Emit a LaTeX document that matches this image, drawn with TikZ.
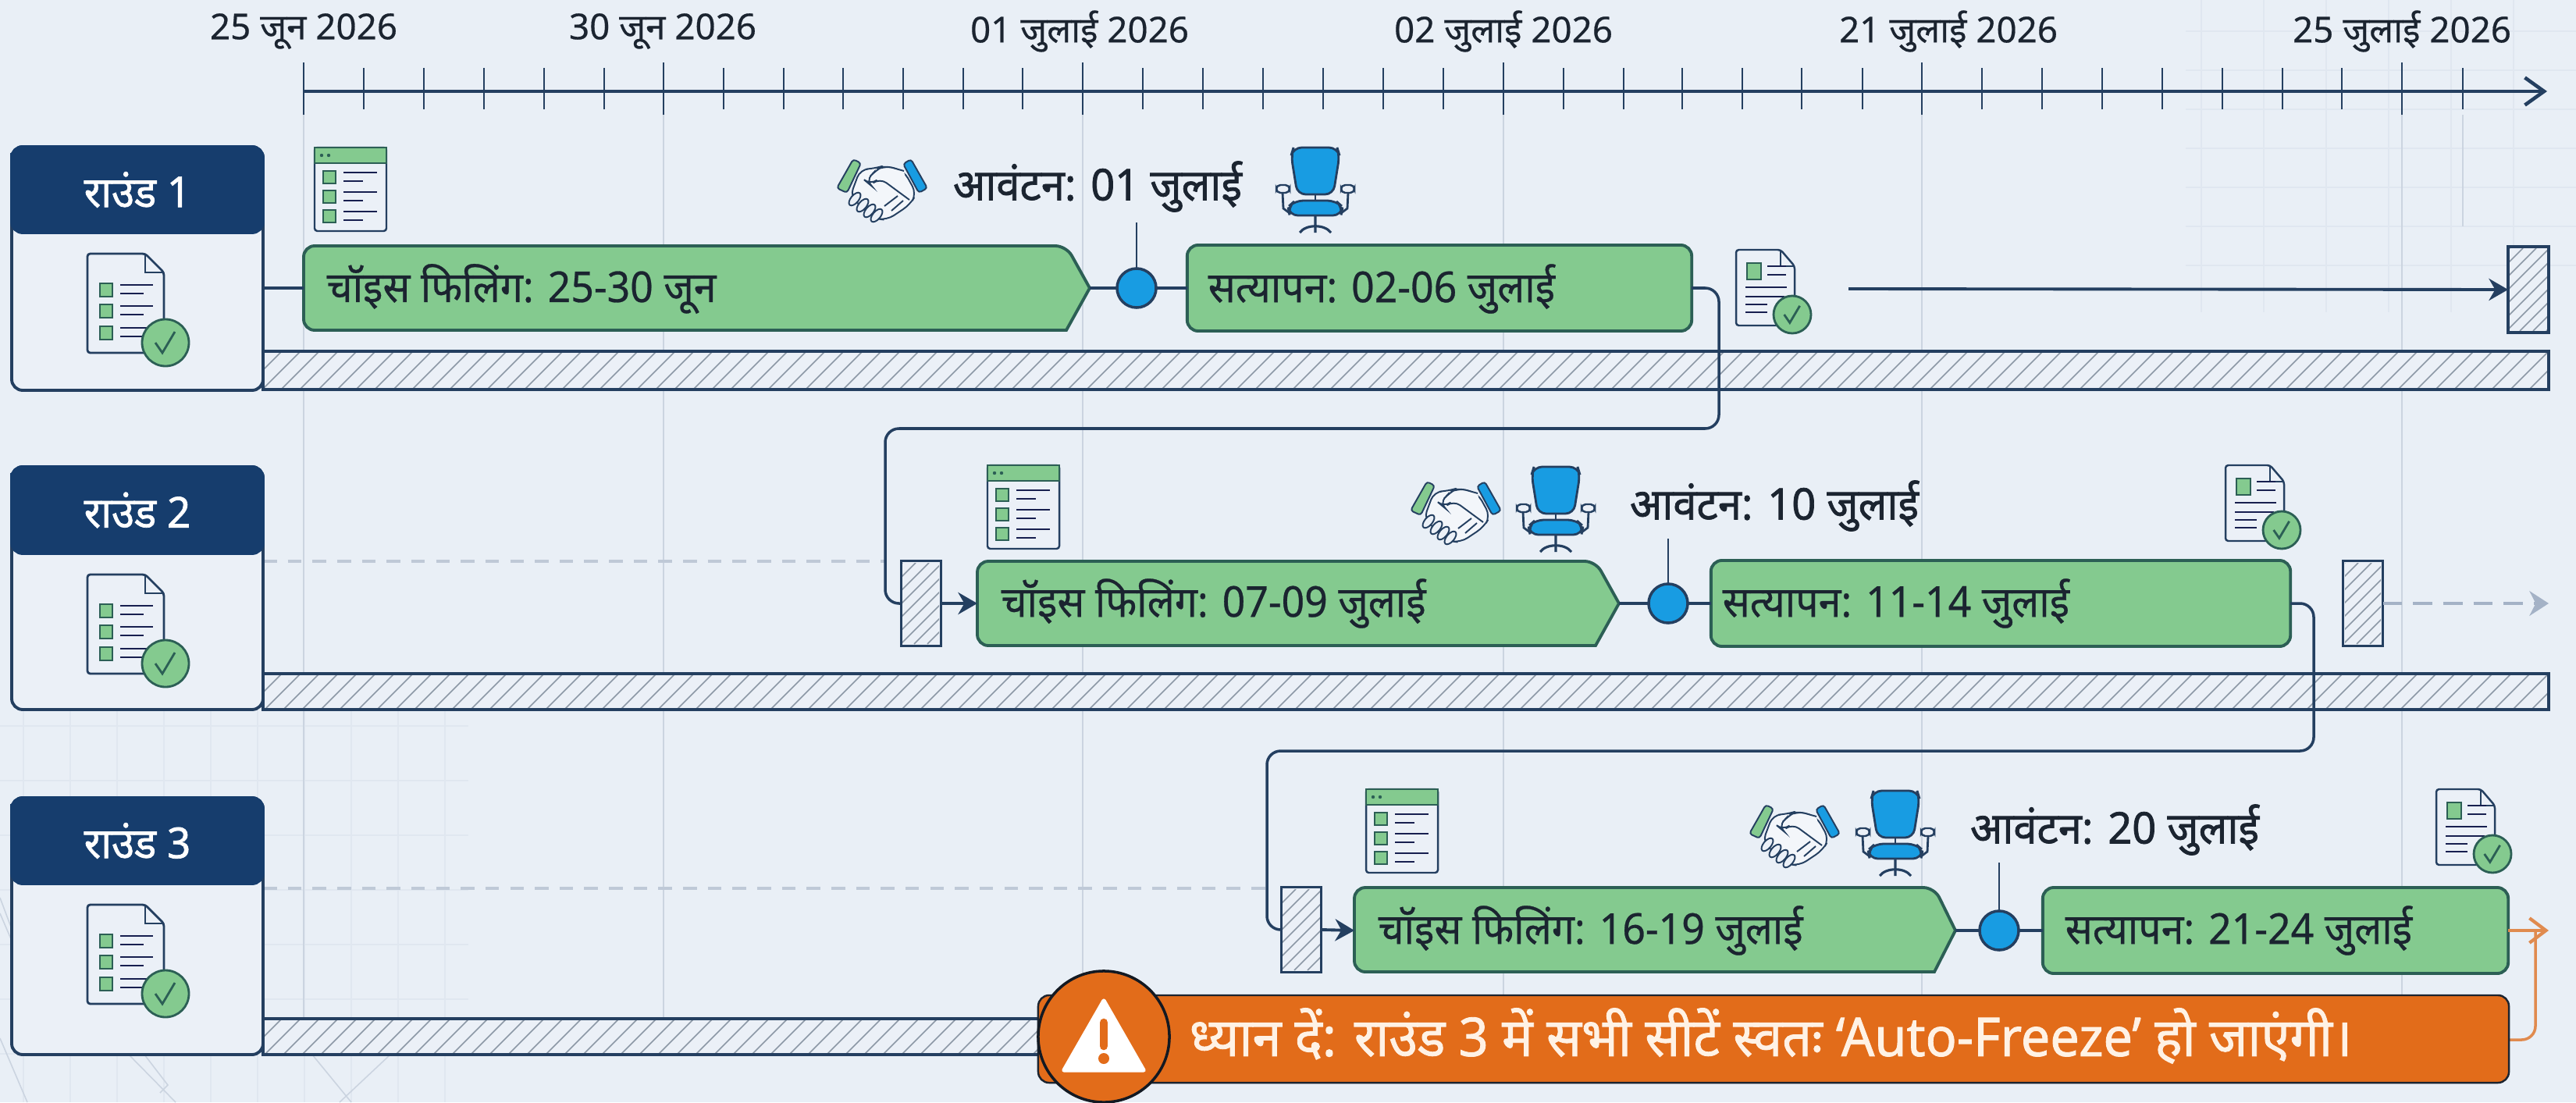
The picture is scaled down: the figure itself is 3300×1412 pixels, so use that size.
\documentclass[tikz,border=0pt]{standalone}
\usepackage{fontspec}
\setmainfont[Script=Devanagari]{Noto Sans}
\newfontfamily\datef[Script=Devanagari,FakeBold=0.4]{Noto Sans}
\newfontfamily\medf[Script=Devanagari,FakeBold=0.5,FakeStretch=0.95]{Noto Sans}
\newfontfamily\boldf[Script=Devanagari,FakeBold=1.3,FakeStretch=0.97]{Noto Sans}
\usetikzlibrary{arrows.meta}
\definecolor{bgc}{HTML}{E9EFF6}
\definecolor{navy}{HTML}{163D6D}
\definecolor{edge}{HTML}{243F60}
\definecolor{gridc}{HTML}{CBD4E0}
\definecolor{faintc}{HTML}{E0E7F0}
\definecolor{hatchc}{HTML}{8C98A6}
\definecolor{barfill}{HTML}{84CA8F}
\definecolor{baredge}{HTML}{2C5F55}
\definecolor{dotc}{HTML}{189CE2}
\definecolor{orangec}{HTML}{E26C1A}
\definecolor{orangel}{HTML}{E08A4E}
\definecolor{ink}{HTML}{1B2430}
\definecolor{grayarrow}{HTML}{A4B2C6}
\definecolor{panelc}{HTML}{EBF0F7}
\tikzset{
  axisline/.style={draw=edge,line width=1.3pt},
  tickmajor/.style={draw=edge,line width=.8pt},
  tickminor/.style={draw=edge,line width=.5pt},
  gridline/.style={draw=gridc,line width=.45pt},
  faint/.style={draw=faintc,line width=.4pt},
  datelabel/.style={font=\datef\fontsize{13}{15}\selectfont,text=ink,inner sep=0pt},
  barlabel/.style={font=\medf\fontsize{15.5}{17}\selectfont,text=ink,inner sep=0pt,anchor=west},
  alloclabel/.style={font=\boldf\fontsize{15.9}{17}\selectfont,text=ink,inner sep=0pt},
  headlabel/.style={font=\boldf\fontsize{15.5}{17}\selectfont,text=white,inner sep=0pt},
  warnlabel/.style={font=\boldf\fontsize{19.5}{21}\selectfont,text=white!90!orange,inner sep=0pt,anchor=west},
  greenbar/.style={draw=baredge,fill=barfill,line width=1.1pt,rounded corners=4pt},
  verifybar/.style={greenbar,minimum height=1.10cm,inner sep=0pt,outer sep=0pt},
  dot/.style={circle,draw=edge,fill=dotc,line width=1pt,minimum size=.5cm,inner sep=0pt,outer sep=0pt},
  flow/.style={draw=edge,line width=1pt,rounded corners=5pt},
  link/.style={draw=edge,line width=1.1pt},
  stem/.style={draw=edge,line width=.7pt},
  hatchline/.style={draw=hatchc,line width=.45pt},
  solidtip/.style={-{Stealth[length=7pt,width=8pt]}},
  gatebox/.style={draw=edge,line width=1.1pt,inner sep=0pt,outer sep=0pt,minimum width=.51cm,minimum height=1.09cm},
  iconline/.style={draw=ink!85!blue,line width=.7pt},
  handline/.style={draw=edge,line width=.55pt},
  pics/formicon/.style={code={
    \draw[draw=edge,line width=.7pt,fill=panelc,rounded corners=1pt] (0,0) rectangle (92,107);
    \draw[draw=baredge,line width=.6pt,fill=barfill] (0,0) rectangle (92,20);
    \fill[baredge] (9,10) circle (2.2) (18,10) circle (2.2);
    \foreach \yy in {30,55,80}{
      \draw[draw=baredge,line width=.7pt,fill=barfill] (11,\yy) rectangle (27,\yy+16);
      \draw[iconline] (37,\yy+2) -- (80,\yy+2);
      \draw[iconline] (37,\yy+13) -- (62,\yy+13);
    }
  }},
  pics/checkmark/.style={code={
    \draw[draw=baredge,line width=.8pt,fill=barfill] (0,0) circle (30);
    \draw[draw=baredge,line width=.8pt] (-13,0) -- (-4,13) -- (12,-14);
  }},
  pics/docbig/.style={code={
    \draw[draw=edge,line width=.8pt,fill=panelc,rounded corners=1pt] (0,0) -- (74,0) -- (98,24) -- (98,127) -- (0,127) -- cycle;
    \draw[draw=edge,line width=.8pt] (74,0) -- (74,24) -- (98,24);
    \foreach \yy in {38,65,93}{
      \draw[draw=baredge,line width=.7pt,fill=barfill] (16,\yy) rectangle (32,\yy+17);
      \draw[iconline] (42,\yy+2) -- (84,\yy+2);
      \draw[iconline] (42,\yy+13) -- (72,\yy+13);
    }
    \pic at (100,114) {checkmark};
  }},
  pics/docsmall/.style={code={
    \draw[draw=edge,line width=.7pt,fill=panelc,rounded corners=1pt] (0,0) -- (57,0) -- (75,21) -- (75,97) -- (0,97) -- cycle;
    \draw[draw=edge,line width=.7pt] (57,0) -- (57,21) -- (75,21);
    \draw[draw=baredge,line width=.7pt,fill=barfill] (14,17) rectangle (32,38);
    \draw[iconline] (40,21) -- (64,21) (40,32) -- (64,32) (12,48) -- (65,48) (12,60) -- (62,60) (12,70) -- (40,70) (12,80) -- (40,80);
    \pic[scale=.8] at (72,83) {checkmark};
  }},
  pics/handshake/.style={code={
    \draw[handline,fill=panelc!60!white,rounded corners=3pt] (-28,-25) -- (-10,-26) -- (3,-30) -- (28,-23) -- (44,6) -- (36,20) -- (6,40) -- (-8,38) -- (-41,10) -- cycle;
    \draw[handline,fill=panelc!60!white,rounded corners=3pt] (28,-23) -- (3,-30) -- (-8,-24) -- (-21,-10) -- (-15,-5) -- (-3,-14) -- (35,14);
    \draw[handline] (3,22) -- (20,9) (12,28) -- (27,15);
    \foreach \fx/\fy in {-35/13,-25/21,-16/28,-7/34}{
      \draw[handline,fill=panelc,shift={(\fx,\fy)},rotate=50] (0,0) ellipse [x radius=10,y radius=5];
    }
    \draw[handline,fill=barfill,rounded corners=1pt] (-37,-38) -- (-27,-33) -- (-45,5) -- (-58,-1) -- cycle;
    \draw[handline,fill=dotc,rounded corners=1pt] (37,-38) -- (27,-32) -- (47,5) -- (58,-1) -- cycle;
  }},
  pics/chair/.style={code={
    \draw[draw=edge,line width=.8pt] (-42,58) -- (-41,78) -- (-33,84) (42,58) -- (41,78) -- (33,84);
    \draw[draw=edge,line width=.7pt,fill=panelc,rounded corners=1.5pt] (-50,48) rectangle (-33,58);
    \draw[draw=edge,line width=.7pt,fill=panelc,rounded corners=1.5pt] (33,48) rectangle (50,58);
    \draw[draw=edge,line width=.8pt,fill=dotc,rounded corners=3pt] (-28,0) -- (28,0) -- (31,10) -- (23,60) -- (-23,60) -- (-31,10) -- cycle;
    \draw[draw=edge,line width=.8pt] (0,60) -- (0,68);
    \draw[draw=edge,line width=.8pt,fill=dotc,rounded corners=3pt] (-26,68) -- (26,68) -- (35,76) -- (33,87) -- (-33,87) -- (-35,76) -- cycle;
    \draw[draw=edge,line width=.9pt] (0,87) -- (0,109) (-20,109) .. controls (-12,98) and (12,98) .. (20,109);
  }},
}
\newcommand{\hatchrect}[5]{% x1 y1 x2 y2 spacing
  \begin{scope}
    \clip (#1,#2) rectangle (#3,#4);
    \fill[panelc] (#1,#2) rectangle (#3,#4);
    \pgfmathsetmacro{\hh}{#4-#2}
    \pgfmathtruncatemacro{\nn}{(#3-#1+\hh)/#5+1}
    \foreach \ii in {0,...,\nn}{
      \pgfmathsetmacro{\xa}{#1-\hh+\ii*#5}
      \draw[hatchline] (\xa,#4) -- (\xa+\hh,#2);
    }
  \end{scope}
}
\begin{document}
\begin{tikzpicture}[x=0.01cm,y=-0.01cm]
\useasboundingbox (0,0) rectangle (3300,1412);
\fill[bgc] (0,0) rectangle (3300,1412);
% faint blueprint backdrop
\foreach \xx in {2820,2900,2980,3060,3140,3220}{\draw[faint] (\xx,0) -- (\xx,400);}
\foreach \yy in {40,90,140,190,240,290,340}{\draw[faint] (2800,\yy) -- (3300,\yy);}
\foreach \xx in {30,90,150,210,270,330,390,450,510,570}{\draw[faint] (\xx,900) -- (\xx,1412);}
\foreach \yy in {930,1000,1070,1140,1210,1280,1350}{\draw[faint] (0,\yy) -- (600,\yy);}
\draw[gridc,line width=.45pt] (0,1150) -- (15,1190) (0,1170) -- (15,1205) (165,1351) -- (225,1412) (185,1351) -- (215,1390) -- (205,1400) (0,1330) -- (35,1412) (400,1351) -- (450,1412) (500,1351) -- (435,1412);
% grid lines
\foreach \xx in {389,850,1387,1926,2462,3077}{\draw[gridline] (\xx,147) -- (\xx,1305);}
\draw[gridline] (3155,147) -- (3155,290);
% axis
\coordinate (axstart) at (389,117);
\coordinate (axend) at (3263,117);
\foreach \xx in {466,543,620,697,774,927,1004,1080,1157,1234,1310,1464,1541,1618,1695,1772,1849,2003,2080,2155,2232,2308,2386,2539,2616,2693,2770,2847,2924,3000,3155}{\draw[tickminor] (\xx,87) -- (\xx,140);}
\foreach \xx in {389,850,1387,1926,2462,3077}{\draw[tickmajor] (\xx,80) -- (\xx,147);}
\draw[axisline,-{Straight Barb[length=7pt,width=10pt]}] (axstart) -- (axend);
\node[datelabel] (d1) at (389,40) {25 जून 2026};
\node[datelabel] (d2) at (849,40) {30 जून 2026};
\node[datelabel] (d3) at (1383,40) {01 जुलाई 2026};
\node[datelabel] (d4) at (1926,40) {02 जुलाई 2026};
\node[datelabel] (d5) at (2496,40) {21 जुलाई 2026};
\node[datelabel] (d6) at (3077,40) {25 जुलाई 2026};
% hatched tracks
\hatchrect{337}{450}{3265}{499}{24}
\draw[link] (337,450) rectangle (3265,499);
\hatchrect{337}{863}{3265}{909}{24}
\draw[link] (337,863) rectangle (3265,909);
\hatchrect{337}{1305}{1400}{1351}{24}
\draw[link] (1400,1305) -- (337,1305) -- (337,1351) -- (1400,1351);
% dashed ghost lines
\coordinate (gh2a) at (337,719);
\coordinate (gh2b) at (1134,719);
\coordinate (gh3a) at (337,1138);
\coordinate (gh3b) at (1623,1138);
\draw[grayarrow!70,line width=.9pt,dash pattern=on 5pt off 4pt] (gh2a) -- (gh2b);
\draw[grayarrow!70,line width=.9pt,dash pattern=on 5pt off 4pt] (gh3a) -- (gh3b);
% round panels
\foreach \nm/\ya/\yb/\yc/\lab in {A/188/298/500/राउंड 1,B/598/709/909/राउंड 2,C/1022/1132/1351/राउंड 3}{
  \draw[draw=edge,line width=1.1pt,fill=panelc,rounded corners=4pt] (15,\ya) rectangle (337,\yc);
  \draw[draw=navy,line width=1.1pt,fill=navy,rounded corners=4pt] (15,\yb) [sharp corners] -- (15,\ya+8) [rounded corners=4pt] -- (15,\ya) -- (337,\ya) -- (337,\yb) -- cycle;
  \node[headlabel] (head\nm) at (176,{(\ya+\yb)/2}) {\lab};
  \pic at (112,{\yb+27}) {docbig};
}
% round 1 bars
\coordinate (r1in) at (337,369);
\coordinate (t1) at (1396,369);
\draw[greenbar] (389,315) -- (1366,315) [sharp corners] -- (t1) -- (1366,423) [rounded corners=4pt] -- (389,423) -- cycle;
\coordinate (c1) at (389,369);
\draw[link] (r1in) -- (c1);
\node[barlabel] (l1a) at (418,370) {चॉइस फिलिंग: 25-30 जून};
\node[verifybar,minimum width=6.46cm] (v1) at (1844,369) {};
\node[barlabel] (l1b) at (1547,370) {सत्यापन: 02-06 जुलाई};
\node[dot] (o1) at (1456,369) {};
\coordinate (s1) at (1456,285);
\draw[stem] (s1) -- (o1);
\draw[link] (t1) -- (o1) (o1) -- (v1);
\node[alloclabel] (a1) at (1406,239) {आवंटन: 01 जुलाई};
% round 2 bars
\coordinate (t2) at (2074,773);
\draw[greenbar] (1252,719) -- (2044,719) [sharp corners] -- (t2) -- (2044,827) [rounded corners=4pt] -- (1252,827) -- cycle;
\coordinate (c2) at (1252,773);
\node[barlabel] (l2a) at (1282,773) {चॉइस फिलिंग: 07-09 जुलाई};
\node[verifybar,minimum width=7.42cm] (v2) at (2563,773) {};
\node[barlabel] (l2b) at (2206,773) {सत्यापन: 11-14 जुलाई};
\node[dot] (o2) at (2137,773) {};
\coordinate (s2) at (2137,690);
\draw[stem] (s2) -- (o2);
\draw[link] (t2) -- (o2) (o2) -- (v2);
\node[alloclabel] (a2) at (2273,648) {आवंटन: 10 जुलाई};
\coordinate (g2e) at (3265,773);
% round 3 bars
\coordinate (t3) at (2505,1192);
\draw[greenbar] (1735,1137) -- (2478,1137) [sharp corners] -- (t3) -- (2478,1245) [rounded corners=4pt] -- (1735,1245) -- cycle;
\coordinate (c3) at (1735,1192);
\node[barlabel] (l3a) at (1765,1192) {चॉइस फिलिंग: 16-19 जुलाई};
\node[verifybar,minimum width=5.96cm] (v3) at (2915,1192) {};
\node[barlabel] (l3b) at (2645,1192) {सत्यापन: 21-24 जुलाई};
\node[dot] (o3) at (2561,1192) {};
\coordinate (s3) at (2561,1105);
\draw[stem] (s3) -- (o3);
\draw[link] (t3) -- (o3) (o3) -- (v3);
\node[alloclabel] (a3) at (2709,1063) {आवंटन: 20 जुलाई};
% gate hatching
\hatchrect{1156}{721}{1203}{825}{17}
\hatchrect{3004}{721}{3050}{825}{17}
\hatchrect{1643}{1139}{1691}{1243}{17}
\hatchrect{3215}{318}{3263}{424}{17}
\node[gatebox] (g2f) at (1180,773) {};
\node[gatebox] (g2g) at (3027,773) {};
\node[gatebox] (g3f) at (1667,1191) {};
\node[gatebox,minimum width=.52cm,minimum height=1.10cm] (g1) at (3239,371) {};
% arrows into gates and bars
\coordinate (r1s) at (2368,370);
\draw[link,solidtip] (r1s) -- (g1.west);
\draw[link,solidtip] (g2f.east) -- (c2);
\draw[link,solidtip] (g3f.east) -- (c3);
\draw[grayarrow,line width=1.3pt,dash pattern=on 7pt off 4pt,-{Stealth[length=7pt,width=9pt]}] (g2g.east) -- (g2e);
% routed connectors
\coordinate (bendA) at (2202,369);
\coordinate (bendB) at (2202,549);
\coordinate (bendC) at (1134,549);
\coordinate (bendD) at (1134,773);
\draw[flow] (v1.east) -- (bendA) -- (bendB) -- (bendC) -- (bendD) -- (g2f.west);
\coordinate (bendE) at (2964,773);
\coordinate (bendF) at (2964,962);
\coordinate (bendG) at (1623,962);
\coordinate (bendH) at (1623,1191);
\draw[flow] (v2.east) -- (bendE) -- (bendF) -- (bendG) -- (bendH) -- (g3f.west);
% icons
\pic at (403,189) {formicon};
\pic at (1265,596) {formicon};
\pic at (1750,1011) {formicon};
\pic at (2224,320) {docsmall};
\pic at (2851,596) {docsmall};
\pic at (3121,1011) {docsmall};
\pic at (1130,242) {handshake};
\pic at (1865,655) {handshake};
\pic at (2299,1069) {handshake};
\pic at (1685,189) {chair};
\pic at (1993,598) {chair};
\pic at (2428,1013) {chair};
% warning
\coordinate (wa) at (3213,1192);
\coordinate (wb) at (3265,1192);
\coordinate (wc) at (3248,1192);
\coordinate (wd) at (3248,1332);
\coordinate (we) at (3213,1332);
\draw[orangel,line width=1pt,rounded corners=5pt] (we) -- (wd) -- (wc);
\draw[orangel,line width=1.2pt,-{Straight Barb[length=6pt,width=9pt]}] (wa) -- (wb);
\node[draw=ink,line width=.7pt,fill=orangec,minimum width=18.83cm,minimum height=1.12cm,inner sep=0pt,outer sep=0pt,rounded corners=4pt] (warnbar) at (2272,1331) {};
\node[circle,draw=ink!70!black,line width=1pt,fill=orangec,minimum size=1.68cm,inner sep=0pt] (warncirc) at (1414,1328) {};
\draw[white,fill=white,line width=1.5pt,line join=round] (1414,1282) -- (1465,1371) -- (1363,1371) -- cycle;
\draw[orangec,line width=3pt,line cap=round] (1414,1310) -- (1414,1340);
\fill[orangec] (1414,1356) circle (7);
\node[warnlabel] (wt) at (1523,1327) {ध्यान दें: राउंड 3 में सभी सीटें स्वतः ‘Auto-Freeze’ हो जाएंगी।};
\end{tikzpicture}
\end{document}
